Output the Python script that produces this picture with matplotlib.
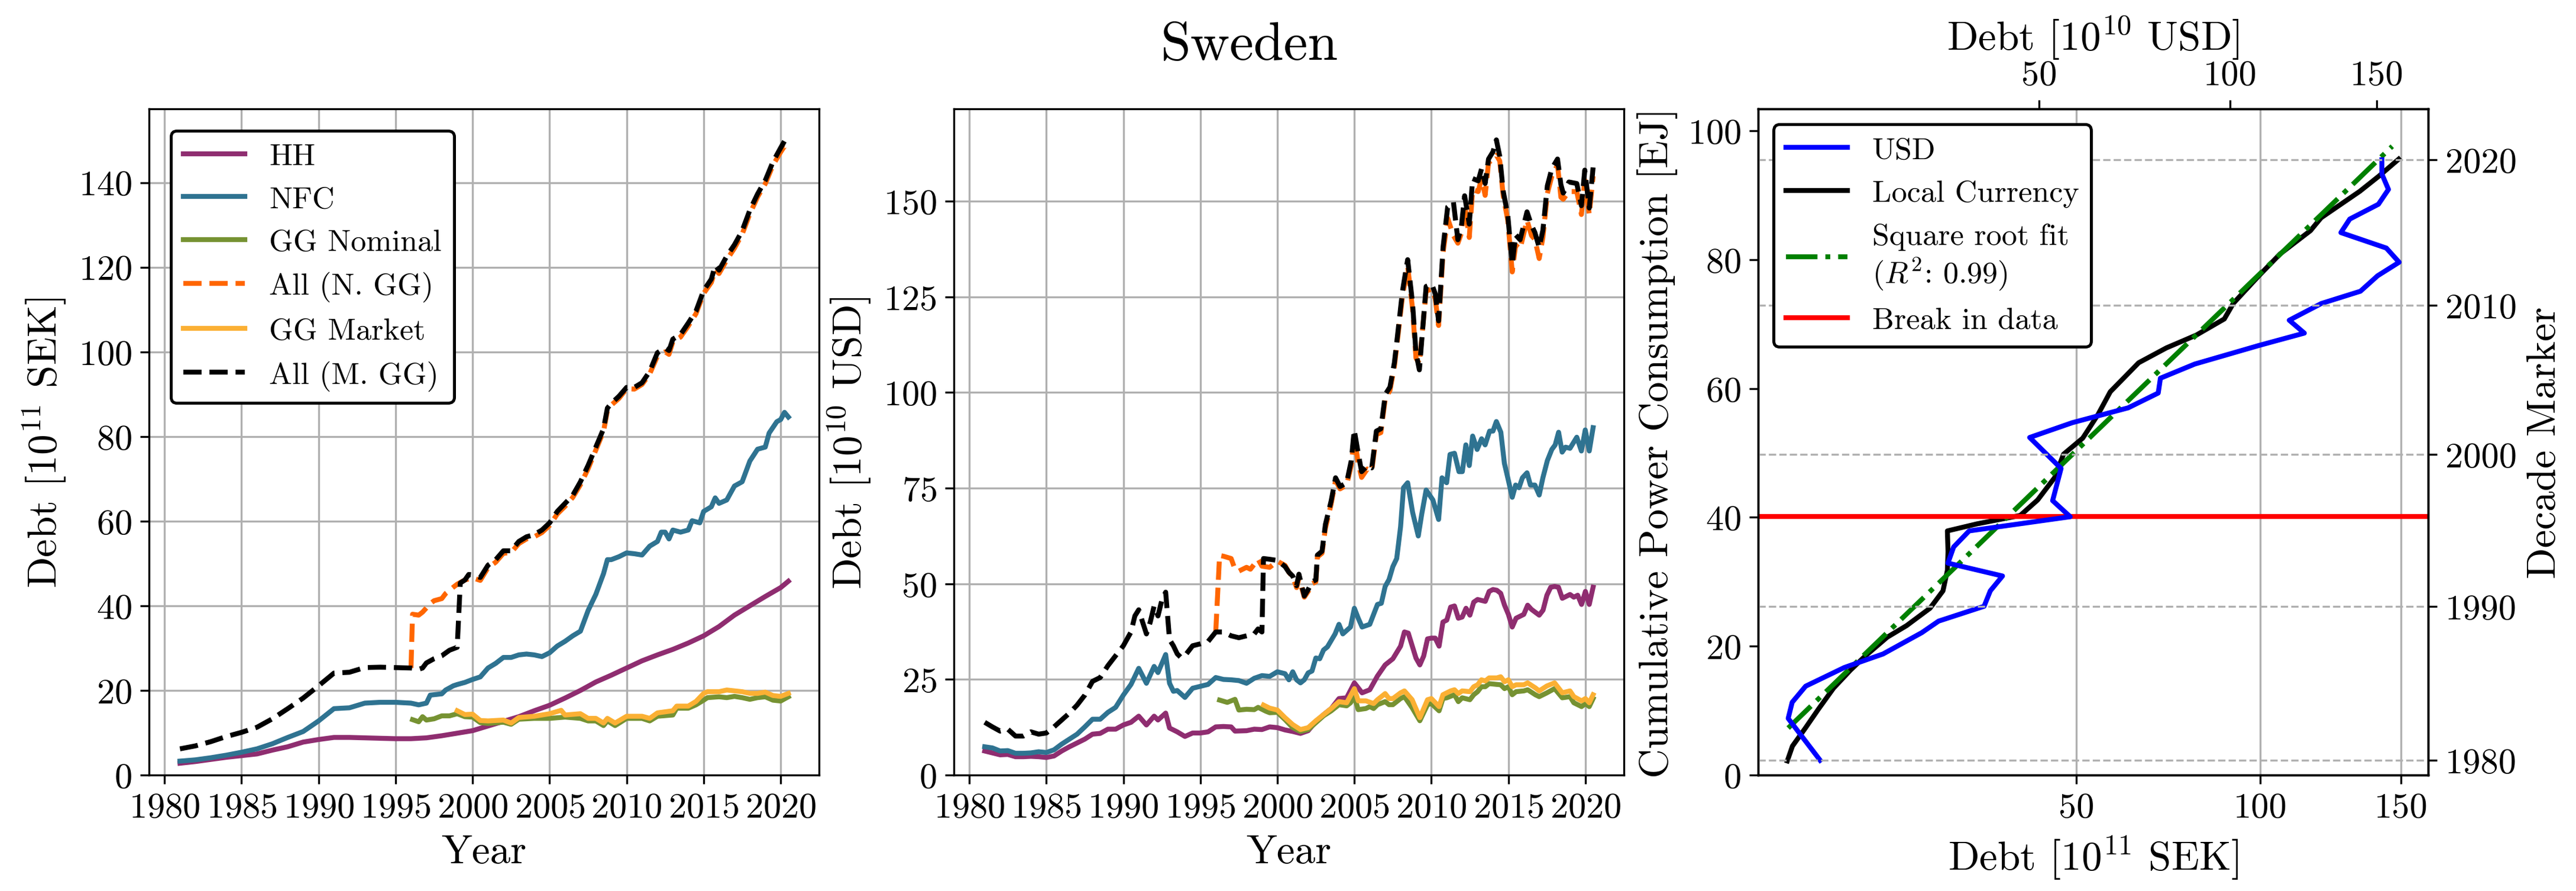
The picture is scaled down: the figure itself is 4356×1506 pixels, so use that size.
import numpy as np
import matplotlib
matplotlib.use("Agg")
import matplotlib.pyplot as plt

plt.rcParams['font.family'] = 'serif'
plt.rcParams['font.serif'] = ['cmr10']
plt.rcParams['mathtext.fontset'] = 'cm'
plt.rcParams['axes.formatter.use_mathtext'] = True
plt.rcParams['axes.unicode_minus'] = False

# ---------------- panel 1: debt in local currency [1e11 SEK] ----------------
hh_sek_year = [1981, 1982, 1983, 1984, 1985, 1986, 1987, 1988, 1989, 1990, 1991, 1992, 1993,
               1994, 1995, 1996, 1997, 1998, 1999, 2000, 2001, 2002, 2003, 2004, 2005, 2006,
               2007, 2008, 2009, 2010, 2011, 2012, 2013, 2014, 2015, 2016, 2017, 2018, 2019,
               2020, 2020.5]
hh_sek = [2.8, 3.2, 3.7, 4.2, 4.6, 5.0, 5.9, 6.7, 7.8, 8.4, 8.9, 8.9, 8.8, 8.7, 8.6, 8.6, 8.8,
          9.3, 9.9, 10.5, 11.6, 12.7, 13.8, 15.2, 16.5, 18.2, 20.0, 22.0, 23.6, 25.3, 27.0,
          28.4, 29.7, 31.2, 32.9, 35.1, 37.8, 40.0, 42.2, 44.3, 45.8]

nfc_sek_year = [1981, 1982, 1983, 1984, 1985, 1986, 1987, 1988, 1989, 1990, 1991, 1992, 1993,
                1994, 1995, 1996, 1996.5, 1997, 1997.25, 1998, 1998.25, 1998.75, 1999, 1999.5,
                2000, 2000.5, 2001, 2001.5, 2002, 2002.5, 2003, 2003.5, 2004, 2004.5, 2005,
                2005.5, 2006, 2006.5, 2007, 2007.5, 2008, 2008.5, 2008.75, 2009, 2009.5, 2010,
                2010.5, 2011, 2011.5, 2012, 2012.25, 2012.5, 2012.75, 2013, 2013.5, 2014,
                2014.25, 2014.75, 2015, 2015.5, 2015.75, 2016, 2016.5, 2017, 2017.5, 2018,
                2018.5, 2019, 2019.25, 2019.75, 2020, 2020.25, 2020.5]
nfc_sek = [3.3, 3.6, 4.1, 4.7, 5.4, 6.2, 7.4, 8.9, 10.3, 12.8, 15.7, 15.9, 17.0, 17.2, 17.2,
           17.0, 16.6, 17.0, 18.9, 19.2, 20.1, 21.1, 21.4, 21.9, 22.6, 23.2, 25.3, 26.4, 27.8,
           27.8, 28.4, 28.6, 28.4, 28.0, 28.9, 30.5, 31.6, 32.9, 34.0, 38.9, 42.7, 47.6, 50.9,
           50.9, 51.6, 52.5, 52.3, 52.0, 54.1, 55.2, 57.4, 57.4, 55.8, 57.9, 57.4, 57.9, 60.1,
           59.6, 62.3, 63.4, 65.5, 64.2, 65.0, 68.3, 69.3, 74.2, 77.0, 77.5, 80.8, 83.5, 84.0,
           85.7, 84.6]

ggn_sek_year = [1996.1, 1996.5, 1996.75, 1997, 1997.5, 1998, 1998.5, 1999, 1999.5, 2000,
                2000.5, 2001, 2002, 2002.5, 2003, 2004, 2005, 2006, 2007, 2007.5, 2008,
                2008.5, 2008.75, 2009.25, 2010, 2011, 2011.5, 2012, 2013, 2013.25, 2014,
                2014.5, 2015, 2015.25, 2016, 2016.5, 2017, 2017.5, 2018, 2018.5, 2019, 2019.5,
                2020, 2020.5]
ggn_sek = [13.1, 12.6, 13.8, 13.0, 13.3, 14.0, 14.0, 14.5, 13.8, 13.7, 12.4, 12.2, 12.5, 12.0,
           13.2, 13.4, 13.4, 13.7, 13.4, 12.8, 12.8, 11.7, 12.8, 11.7, 13.4, 13.4, 12.8, 13.9,
           14.2, 15.8, 15.8, 16.6, 17.7, 18.3, 18.5, 18.3, 18.6, 18.3, 17.9, 18.3, 18.5, 17.7,
           17.5, 18.5]

alln_sek_year = [1996, 1996.1, 1996.5, 1996.75, 1997, 1997.25, 1997.5, 1998, 1998.25, 1998.75,
                 1999, 1999.5, 2000, 2000.5, 2001, 2001.5, 2002, 2002.5, 2003, 2003.5, 2004,
                 2004.5, 2005, 2005.5, 2006, 2006.5, 2007, 2007.5, 2008, 2008.5, 2008.75, 2009,
                 2009.5, 2010, 2010.5, 2011, 2011.5, 2012, 2012.5, 2012.75, 2013, 2013.5, 2014,
                 2014.5, 2015, 2015.5, 2015.75, 2016, 2016.5, 2017, 2017.5, 2018, 2018.5, 2019,
                 2019.5, 2020, 2020.25, 2020.5]
alln_sek = [25.3, 38.0, 37.8, 38.5, 39.5, 40.5, 41.2, 41.7, 42.9, 44.4, 45.1, 46.1, 46.6, 46.0,
            49.0, 50.3, 52.4, 52.6, 54.7, 55.8, 56.3, 57.3, 59.0, 61.7, 63.5, 65.6, 68.6, 72.4,
            76.8, 81.2, 86.1, 87.4, 89.0, 91.3, 91.2, 92.3, 94.8, 99.0, 100.0, 99.4, 102.4,
            103.5, 106.1, 109.0, 113.8, 116.4, 119.4, 118.5, 121.7, 124.5, 127.8, 132.6, 136.6,
            139.7, 144.1, 147.2, 148.6, 148.4]

ggm_sek_year = [1999, 1999.5, 2000, 2000.5, 2001, 2002, 2002.5, 2003, 2004, 2005, 2005.75,
                2006, 2007, 2007.5, 2008, 2008.5, 2008.75, 2009.25, 2010, 2011, 2011.5, 2012,
                2013, 2013.25, 2014, 2014.5, 2015, 2015.25, 2016, 2016.5, 2017, 2017.5, 2018,
                2018.5, 2019, 2019.5, 2020, 2020.5]
ggm_sek = [15.2, 14.3, 14.4, 12.9, 12.8, 13.0, 12.3, 13.6, 13.9, 14.5, 15.3, 14.2, 14.5, 13.4,
           13.4, 12.3, 13.4, 12.3, 13.9, 13.9, 13.4, 14.7, 15.2, 16.3, 16.3, 17.4, 19.3, 19.7,
           19.7, 20.1, 19.9, 19.7, 19.3, 19.3, 19.6, 18.8, 18.6, 19.3]

allm_sek_year = [1981, 1982, 1983, 1984, 1985, 1986, 1987, 1988, 1989, 1990, 1991, 1992, 1993,
                 1994, 1995, 1996, 1996.5, 1996.75, 1997, 1997.5, 1998, 1998.5, 1999, 1999.2,
                 1999.5, 1999.75, 2000, 2000.5, 2001, 2001.5, 2002, 2002.5, 2003, 2003.5, 2004,
                 2004.5, 2005, 2005.5, 2006, 2006.5, 2007, 2007.5, 2008, 2008.5, 2008.75, 2009,
                 2009.5, 2010, 2010.5, 2011, 2011.5, 2012, 2012.5, 2012.75, 2013, 2013.5, 2014,
                 2014.5, 2015, 2015.5, 2015.75, 2016, 2016.5, 2017, 2017.5, 2018, 2018.5, 2019,
                 2019.5, 2020, 2020.25, 2020.5]
allm_sek = [6.2, 6.9, 7.9, 9.1, 10.1, 11.3, 13.3, 15.7, 18.2, 21.1, 24.1, 24.3, 25.4, 25.5,
            25.4, 25.3, 25.0, 25.3, 26.5, 27.5, 28.2, 29.5, 30.2, 45.4, 46.1, 47.4, 47.3, 46.7,
            49.6, 50.9, 53.0, 53.0, 55.2, 56.3, 56.8, 57.9, 59.6, 62.3, 64.2, 66.1, 69.3, 73.2,
            77.5, 81.8, 86.7, 87.8, 89.5, 91.6, 91.6, 92.7, 95.4, 99.8, 100.9, 100.3, 103.0,
            104.1, 106.8, 109.6, 114.5, 117.2, 120.4, 119.3, 122.6, 125.3, 128.6, 133.5, 137.3,
            140.5, 144.9, 148.2, 149.8, 149.5]

# ---------------- panel 2: debt in dollars [1e10 USD] ----------------
hh_usd_year = [1981, 1981.5, 1982, 1982.5, 1983, 1983.5, 1984, 1984.5, 1985, 1985.5, 1986,
               1986.5, 1987, 1987.5, 1988, 1988.5, 1989, 1989.5, 1990, 1990.5, 1991, 1991.5,
               1992, 1992.25, 1992.75, 1993, 1993.5, 1994, 1994.5, 1995, 1995.5, 1996, 1996.5,
               1997, 1997.25, 1998, 1998.5, 1999, 1999.5, 2000, 2000.5, 2001, 2001.5, 2002,
               2002.5, 2003, 2003.5, 2004, 2004.5, 2005, 2005.5, 2006, 2006.5, 2007, 2007.5,
               2008, 2008.25, 2008.5, 2009, 2009.25, 2009.5, 2009.75, 2010, 2010.25, 2010.5,
               2010.75, 2011, 2011.25, 2011.5, 2011.75, 2012, 2012.25, 2012.5, 2012.75, 2013,
               2013.5, 2013.75, 2014, 2014.25, 2014.5, 2014.75, 2015, 2015.25, 2015.5, 2016,
               2016.25, 2016.5, 2017, 2017.25, 2017.5, 2017.75, 2018, 2018.25, 2018.5, 2019,
               2019.25, 2019.5, 2019.75, 2020, 2020.25, 2020.5]
hh_usd = [6.3, 5.8, 5.3, 5.4, 4.8, 4.8, 4.9, 4.8, 4.6, 5.0, 6.3, 7.4, 8.4, 9.4, 10.7, 10.9,
          12.0, 12.0, 13.1, 13.8, 15.4, 13.1, 15.4, 14.4, 16.2, 12.3, 11.3, 10.1, 11.0, 11.0,
          11.3, 12.6, 12.7, 12.6, 11.5, 11.6, 12.0, 11.9, 12.6, 12.4, 11.8, 11.4, 10.9, 11.6,
          14.0, 15.8, 17.4, 20.0, 20.2, 24.1, 21.5, 22.3, 25.9, 28.8, 30.4, 33.7, 37.4, 37.1,
          30.6, 28.8, 31.1, 35.6, 35.8, 35.8, 33.7, 40.0, 40.5, 43.9, 44.2, 41.0, 41.3, 43.6,
          41.8, 45.2, 45.9, 45.4, 48.0, 48.5, 48.3, 47.5, 44.4, 42.0, 38.7, 41.0, 42.0, 44.4,
          43.3, 41.8, 43.1, 47.0, 49.1, 49.3, 49.1, 46.2, 47.2, 46.5, 47.0, 44.6, 48.0, 44.6,
          49.1]

nfc_usd_year = [1981, 1981.5, 1982, 1982.5, 1983, 1983.5, 1984, 1984.5, 1985, 1985.5, 1986,
                1986.5, 1987, 1987.5, 1988, 1988.5, 1989, 1989.5, 1990, 1990.5, 1991, 1991.5,
                1992, 1992.25, 1992.75, 1993, 1993.25, 1993.5, 1994, 1994.5, 1995, 1995.5,
                1996, 1996.5, 1997, 1997.5, 1998, 1998.5, 1999, 1999.5, 2000, 2000.5, 2000.75,
                2001, 2001.25, 2001.5, 2001.75, 2002, 2002.25, 2002.5, 2002.75, 2003, 2003.25,
                2003.75, 2004, 2004.25, 2004.75, 2005, 2005.25, 2005.5, 2006, 2006.5, 2006.75,
                2007, 2007.25, 2007.5, 2007.75, 2008, 2008.19, 2008.46, 2008.78, 2009.15,
                2009.37, 2009.66, 2010.1, 2010.47, 2010.69, 2010.99, 2011.21, 2011.5, 2011.79,
                2012.01, 2012.24, 2012.46, 2012.68, 2012.97, 2013.26, 2013.49, 2013.78, 2014.0,
                2014.22, 2014.51, 2014.74, 2014.96, 2015.25, 2015.47, 2015.69, 2015.91,
                2016.21, 2016.43, 2016.72, 2017.0, 2017.24, 2017.53, 2017.82, 2018.04,
                2018.26, 2018.49, 2018.71, 2019.0, 2019.44, 2019.74, 2019.99, 2020.25, 2020.5]
nfc_usd = [7.4, 7.1, 6.3, 6.4, 5.7, 5.7, 5.8, 6.1, 5.9, 6.6, 8.1, 9.4, 10.7, 12.6, 14.6, 14.6,
           16.4, 17.7, 20.9, 23.7, 27.9, 24.0, 28.4, 26.8, 31.5, 24.0, 21.9, 22.1, 20.3, 22.7,
           23.2, 23.7, 25.5, 25.0, 24.9, 24.7, 24.0, 25.3, 26.0, 25.8, 27.0, 26.5, 24.9, 27.0,
           24.9, 24.1, 24.9, 26.7, 27.2, 30.6, 30.4, 32.7, 33.5, 36.9, 39.4, 36.9, 38.7, 43.6,
           41.0, 38.7, 39.4, 44.6, 44.9, 49.3, 51.1, 54.5, 56.6, 64.9, 75.1, 76.4, 68.7, 62.5,
           68.1, 74.5, 71.9, 66.8, 77.7, 76.4, 83.8, 84.1, 79.3, 79.3, 86.3, 80.9, 88.6, 85.1,
           87.9, 86.3, 89.9, 89.9, 92.4, 89.6, 81.5, 77.7, 72.6, 75.8, 75.1, 77.7, 79.0, 75.8,
           75.8, 73.2, 77.7, 82.2, 85.1, 86.3, 89.6, 84.4, 85.7, 85.4, 88.3, 84.7, 90.2, 84.7,
           90.8]

ggn_usd_year = [1996.25, 1996.75, 1997.25, 1997.5, 1998, 1998.5, 1998.75, 1999.25, 1999.5,
                2000, 2000.5, 2001, 2001.5, 2002, 2002.5, 2003, 2003.5, 2004, 2004.5, 2004.75,
                2005, 2005.25, 2005.75, 2006, 2006.25, 2006.5, 2007, 2007.25, 2007.5, 2008,
                2008.25, 2008.75, 2009.25, 2009.75, 2010, 2010.5, 2010.75, 2011, 2011.5,
                2011.75, 2012, 2012.5, 2012.75, 2013, 2013.25, 2013.5, 2013.75, 2014.5,
                2014.75, 2015, 2015.25, 2015.5, 2016, 2016.25, 2016.75, 2017, 2017.5, 2018,
                2018.5, 2019, 2019.25, 2019.75, 2020, 2020.25, 2020.5]
ggn_usd = [19.6, 19.0, 19.8, 17.0, 17.2, 17.1, 17.7, 16.7, 16.3, 16.4, 14.5, 12.4, 11.4, 11.9,
           13.7, 15.5, 16.8, 18.4, 18.1, 18.9, 20.5, 17.1, 17.4, 17.9, 17.4, 18.4, 19.2, 18.4,
           18.4, 20.0, 20.5, 17.6, 14.2, 18.4, 18.7, 16.8, 20.0, 20.2, 21.0, 19.2, 20.2, 19.7,
           21.0, 21.8, 23.1, 23.1, 23.9, 23.6, 22.6, 23.1, 21.0, 21.8, 22.0, 22.3, 21.0, 20.5,
           21.5, 22.6, 20.2, 20.5, 18.9, 17.9, 18.7, 17.9, 20.0]

alln_usd_year = [1996, 1996.25, 1996.5, 1997, 1997.25, 1997.5, 1998, 1998.25, 1998.5, 1998.75,
                 1999, 1999.5, 2000, 2000.5, 2000.75, 2001, 2001.25, 2001.4, 2001.75, 2002,
                 2002.25, 2002.5, 2002.6, 2002.9, 2003.12, 2003.49, 2003.78, 2004.07, 2004.5,
                 2004.8, 2004.99, 2005.25, 2005.47, 2005.84, 2006.13, 2006.43, 2006.72,
                 2007.01, 2007.31, 2007.6, 2007.82, 2008.12, 2008.46, 2008.78, 2009.0, 2009.22,
                 2009.66, 2010.03, 2010.25, 2010.47, 2010.76, 2011.06, 2011.43, 2011.72,
                 2011.94, 2012.16, 2012.46, 2012.68, 2013.04, 2013.26, 2013.49, 2013.71, 2014.0,
                 2014.22, 2014.44, 2014.66, 2014.96, 2015.25, 2015.47, 2015.76, 2016.21,
                 2016.5, 2016.72, 2017.0, 2017.24, 2017.53, 2017.82, 2018.19, 2018.41, 2018.56,
                 2018.93, 2019.44, 2019.74, 2019.96, 2020.25, 2020.5]
alln_usd = [37.4, 57.4, 57.2, 56.6, 53.8, 53.3, 54.3, 53.8, 55.1, 56.4, 54.6, 54.3, 55.9, 54.8,
            53.0, 51.8, 49.0, 51.5, 46.5, 48.0, 50.0, 50.5, 57.0, 58.0, 64.5, 70.8, 77.0, 74.8,
            75.8, 81.0, 88.5, 81.5, 77.8, 80.0, 79.5, 89.0, 89.5, 98.5, 100.5, 106.8, 114.5,
            125.0, 133.0, 121.8, 109.0, 107.5, 126.5, 127.0, 124.5, 117.5, 136.5, 145.5, 141.0,
            139.0, 141.5, 149.0, 140.5, 153.0, 152.5, 156.0, 151.5, 160.0, 161.0, 162.0, 160.5,
            151.5, 145.0, 131.5, 138.5, 137.5, 145.0, 141.0, 140.0, 135.0, 140.5, 152.0, 156.5,
            159.5, 151.0, 150.5, 152.5, 152.5, 146.5, 155.5, 146.5, 156.5]

ggm_usd_year = [1999.1, 1999.5, 2000, 2000.5, 2001, 2001.5, 2002, 2002.5, 2003, 2003.5, 2004,
                2004.5, 2005, 2005.25, 2005.75, 2006.25, 2006.5, 2007, 2007.25, 2007.5, 2008,
                2008.25, 2008.75, 2009.25, 2009.75, 2010, 2010.5, 2010.75, 2011.25, 2011.5,
                2011.75, 2012, 2012.5, 2012.75, 2013, 2013.25, 2013.5, 2013.75, 2014.25,
                2014.5, 2014.75, 2015, 2015.25, 2015.5, 2016, 2016.25, 2016.75, 2017, 2017.5,
                2018, 2018.5, 2019, 2019.25, 2019.75, 2020, 2020.25, 2020.5]
ggm_usd = [18.3, 17.5, 17.0, 15.0, 13.2, 11.9, 12.4, 14.2, 15.8, 17.4, 19.2, 18.9, 22.6, 19.4,
           19.4, 18.7, 19.7, 21.3, 20.0, 20.0, 21.5, 22.0, 19.7, 15.0, 19.7, 20.0, 17.9, 21.0,
           22.0, 22.3, 21.3, 22.0, 21.8, 23.1, 23.6, 24.9, 24.6, 25.4, 25.4, 25.7, 24.4, 24.9,
           23.1, 23.6, 23.6, 24.1, 22.8, 22.0, 23.3, 24.1, 21.5, 22.0, 20.5, 19.4, 20.0, 18.9,
           21.0]

allm_usd_year = [1981, 1981.5, 1982, 1982.5, 1983, 1983.5, 1984, 1984.5, 1985, 1985.5, 1986,
                 1986.5, 1987, 1987.5, 1988, 1988.5, 1989, 1989.5, 1990, 1990.5, 1990.75, 1991,
                 1991.25, 1991.5, 1991.75, 1992, 1992.25, 1992.5, 1992.75, 1993, 1993.25,
                 1993.5, 1993.75, 1994, 1994.5, 1995, 1995.5, 1996, 1996.5, 1997, 1997.5,
                 1998, 1998.5, 1998.75, 1999, 1999.1, 1999.5, 2000, 2000.5, 2000.75, 2001,
                 2001.25, 2001.4, 2001.75, 2002, 2002.25, 2002.5, 2002.6, 2002.9, 2003.12,
                 2003.49, 2003.78, 2004.07, 2004.5, 2004.8, 2004.99, 2005.25, 2005.47, 2005.84,
                 2006.13, 2006.43, 2006.72, 2007.01, 2007.31, 2007.6, 2007.82, 2008.12,
                 2008.46, 2008.78, 2009.0, 2009.22, 2009.66, 2010.03, 2010.25, 2010.47,
                 2010.76, 2011.06, 2011.43, 2011.72, 2011.94, 2012.16, 2012.46, 2012.68,
                 2013.04, 2013.26, 2013.49, 2013.71, 2014.0, 2014.22, 2014.44, 2014.66,
                 2014.96, 2015.25, 2015.47, 2015.76, 2016.21, 2016.5, 2016.72, 2017.0, 2017.24,
                 2017.53, 2017.82, 2018.19, 2018.41, 2018.56, 2018.93, 2019.44, 2019.74,
                 2019.96, 2020.25, 2020.5]
allm_usd = [13.8, 12.6, 11.5, 12.0, 10.2, 10.2, 11.3, 10.7, 11.0, 12.6, 14.4, 16.2, 18.3, 20.9,
            24.5, 25.5, 28.6, 31.2, 33.8, 37.4, 41.6, 43.2, 40.0, 36.9, 40.0, 44.2, 41.6, 45.7,
            47.8, 35.4, 33.8, 31.7, 30.7, 31.2, 33.8, 34.3, 34.9, 37.4, 37.4, 36.4, 35.9, 36.4,
            36.9, 38.2, 37.4, 56.6, 56.4, 56.1, 54.5, 53.0, 52.0, 49.5, 52.5, 46.8, 48.5, 50.5,
            51.0, 57.5, 58.5, 65.5, 71.6, 77.7, 75.4, 76.4, 82.2, 90.2, 84.1, 79.3, 80.9, 80.3,
            89.9, 90.5, 99.5, 101.4, 107.8, 115.5, 126.4, 134.7, 123.2, 110.4, 105.9, 127.7,
            128.3, 125.8, 118.7, 138.0, 148.5, 149.8, 139.9, 143.1, 151.4, 144.0, 155.9, 155.3,
            158.5, 154.6, 161.0, 162.9, 166.0, 161.7, 152.7, 146.3, 133.5, 141.2, 139.9, 147.2,
            143.7, 141.8, 137.9, 142.4, 154.0, 158.5, 161.0, 154.3, 152.1, 155.0, 154.6, 148.8,
            158.1, 148.2, 158.8]

# ---------------- panel 3: debt vs cumulative power consumption ----------------
local_energy = [2.2, 4.5, 7.3, 10.2, 13.5, 16.3, 18.5, 21.4, 23.2, 25.9, 28.6, 31.8, 34.7,
                37.9, 39.0, 40.3, 42.7, 46.2, 49.8, 52.3, 55.9, 59.5, 64.0, 66.3, 68.3, 70.8,
                73.2, 77.5, 80.9, 84.5, 86.5, 90.6, 93.0, 95.6]
local_debt = [6.03, 6.44, 7.53, 8.70, 10.2, 12.0, 13.7, 16.4, 19.0, 22.4, 24.4, 25.1, 25.2,
              25.1, 30.1, 38.1, 41.6, 45.2, 47.1, 51.4, 54.9, 57.9, 65.0, 72.3, 80.7, 88.9,
              91.6, 99.6, 106.5, 116.7, 120.4, 134.3, 141.6, 149.1]
usd_energy = [2.3, 8.8, 11.3, 13.8, 16.7, 18.8, 22.1, 23.9, 26.2, 28.6, 30.9, 32.9, 35.4, 37.9,
              40.1, 42.6, 47.6, 52.4, 54.7, 57.0, 59.3, 61.6, 63.8, 66.7, 68.6, 70.6, 73.2,
              75.1, 77.5, 79.6, 81.8, 84.2, 86.3, 88.6, 90.9, 93.3, 95.5]
usd_debt = [13.8, 10.4, 10.8, 12.2, 16.7, 21.9, 27.8, 30.6, 38.8, 40.0, 42.4, 32.2, 33.2, 36.0,
            57.0, 53.0, 54.9, 48.0, 57.5, 71.2, 79.2, 79.8, 89.5, 109.2, 124.1, 119.0, 130.0,
            144.0, 150.4, 158.6, 153.7, 136.9, 140.1, 150.7, 154.5, 152.0, 152.0]
fit_debt = [6.1, 146.6]
fit_energy = [7.3, 97.6]
fit_r2 = 0.99
break_energy = 40.1
decade_energy = [2.3, 26.2, 49.8, 72.9, 95.5]
decade_labels = ['1980', '1990', '2000', '2010', '2020']

# colours
c_hh = '#8F2D70'
c_nfc = '#2F7391'
c_ggn = '#769232'
c_alln = '#FF6600'
c_ggm = '#FBB034'
c_allm = 'black'

TICK = 14.5
LABEL = 16.6
LEG = 12.5
LW = 2.0


def sector_panel(ax, series, ylabel):
    for year, val, col, ls, lab in series:
        ax.plot(year, val, color=col, ls=ls, lw=LW, label=lab)
    ax.set_xlim(1979.0, 2022.5)
    ax.set_xticks(np.arange(1980, 2021, 5))
    ax.grid(True)
    ax.set_axisbelow(True)
    ax.set_xlabel('Year', fontsize=LABEL)
    ax.set_ylabel(ylabel, fontsize=LABEL)
    ax.tick_params(labelsize=TICK)


fig = plt.figure(figsize=(14.52, 5.0233), dpi=300)
bottom, height, width = 0.130, 0.7472, 0.2601

ax1 = fig.add_axes([0.0579, bottom, width, height])
sector_panel(ax1, [(hh_sek_year, hh_sek, c_hh, '-', 'HH'),
                   (nfc_sek_year, nfc_sek, c_nfc, '-', 'NFC'),
                   (ggn_sek_year, ggn_sek, c_ggn, '-', 'GG Nominal'),
                   (alln_sek_year, alln_sek, c_alln, '--', 'All (N. GG)'),
                   (ggm_sek_year, ggm_sek, c_ggm, '-', 'GG Market'),
                   (allm_sek_year, allm_sek, c_allm, '--', 'All (M. GG)')],
             r'Debt [$10^{11}$ SEK]')
ax1.set_ylim(0, 157.4)
ax1.set_yticks(np.arange(0, 141, 20))
leg1 = ax1.legend(loc='upper left', fontsize=LEG, framealpha=1, edgecolor='black',
                  borderaxespad=0.7)
leg1.get_frame().set_linewidth(1.2)

ax2 = fig.add_axes([0.3703, bottom, width, height])
sector_panel(ax2, [(hh_usd_year, hh_usd, c_hh, '-', 'HH'),
                   (nfc_usd_year, nfc_usd, c_nfc, '-', 'NFC'),
                   (ggn_usd_year, ggn_usd, c_ggn, '-', 'GG Nominal'),
                   (alln_usd_year, alln_usd, c_alln, '--', 'All (N. GG)'),
                   (ggm_usd_year, ggm_usd, c_ggm, '-', 'GG Market'),
                   (allm_usd_year, allm_usd, c_allm, '--', 'All (M. GG)')],
             r'Debt [$10^{10}$ USD]')
ax2.set_ylim(0, 174.1)
ax2.set_yticks(np.arange(0, 151, 25))

# panel 3
ax3 = fig.add_axes([0.6825, bottom, width, height])
ax3.set_xscale('function', functions=(np.sqrt, np.square))
ln_loc, = ax3.plot(local_debt, local_energy, color='black', lw=LW)
ln_fit, = ax3.plot(fit_debt, fit_energy, color='green', ls='-.', lw=LW)
ln_brk = ax3.axhline(break_energy, color='red', lw=LW)
ax3.set_xlim(3.96, 160.8)
ax3.set_ylim(0, 103.4)
ax3.set_xticks([50, 100, 150])
ax3.set_xticklabels(['50', '100', '150'])
ax3.grid(True, axis='x')
ax3.set_axisbelow(True)
ax3.tick_params(labelsize=TICK)
ax3.set_xlabel(r'Debt [$10^{11}$ SEK]', fontsize=LABEL)
ax3.set_ylabel('Cumulative Power Consumption [EJ]', fontsize=LABEL)

ax3t = ax3.twiny()
ax3t.set_xscale('function', functions=(np.sqrt, np.square))
ln_usd, = ax3t.plot(usd_debt, usd_energy, color='blue', lw=LW)
ax3t.set_xlim(7.64, 170.0)
ax3t.set_xticks([50, 100, 150])
ax3t.set_xticklabels(['50', '100', '150'])
ax3t.tick_params(labelsize=TICK)
ax3t.set_xlabel(r'Debt [$10^{10}$ USD]', fontsize=LABEL)

ax3r = ax3.twinx()
ax3r.set_ylim(0, 103.4)
ax3r.set_yticks(decade_energy)
ax3r.set_yticklabels(decade_labels)
ax3r.grid(True, axis='y', ls='--')
ax3r.tick_params(labelsize=TICK)
ax3r.set_ylabel('Decade Marker', fontsize=LABEL)

leg3 = ax3r.legend([ln_usd, ln_loc, ln_fit, ln_brk],
                   ['USD', 'Local Currency', 'Square root fit\n($R^2$: %.2f)' % fit_r2,
                    'Break in data'],
                   loc='upper left', fontsize=LEG, framealpha=1, edgecolor='black')
leg3.get_frame().set_linewidth(1.2)

fig.suptitle('Sweden', fontsize=22, x=0.485, y=0.948, va='center')

fig.savefig('out.png', dpi=300)
